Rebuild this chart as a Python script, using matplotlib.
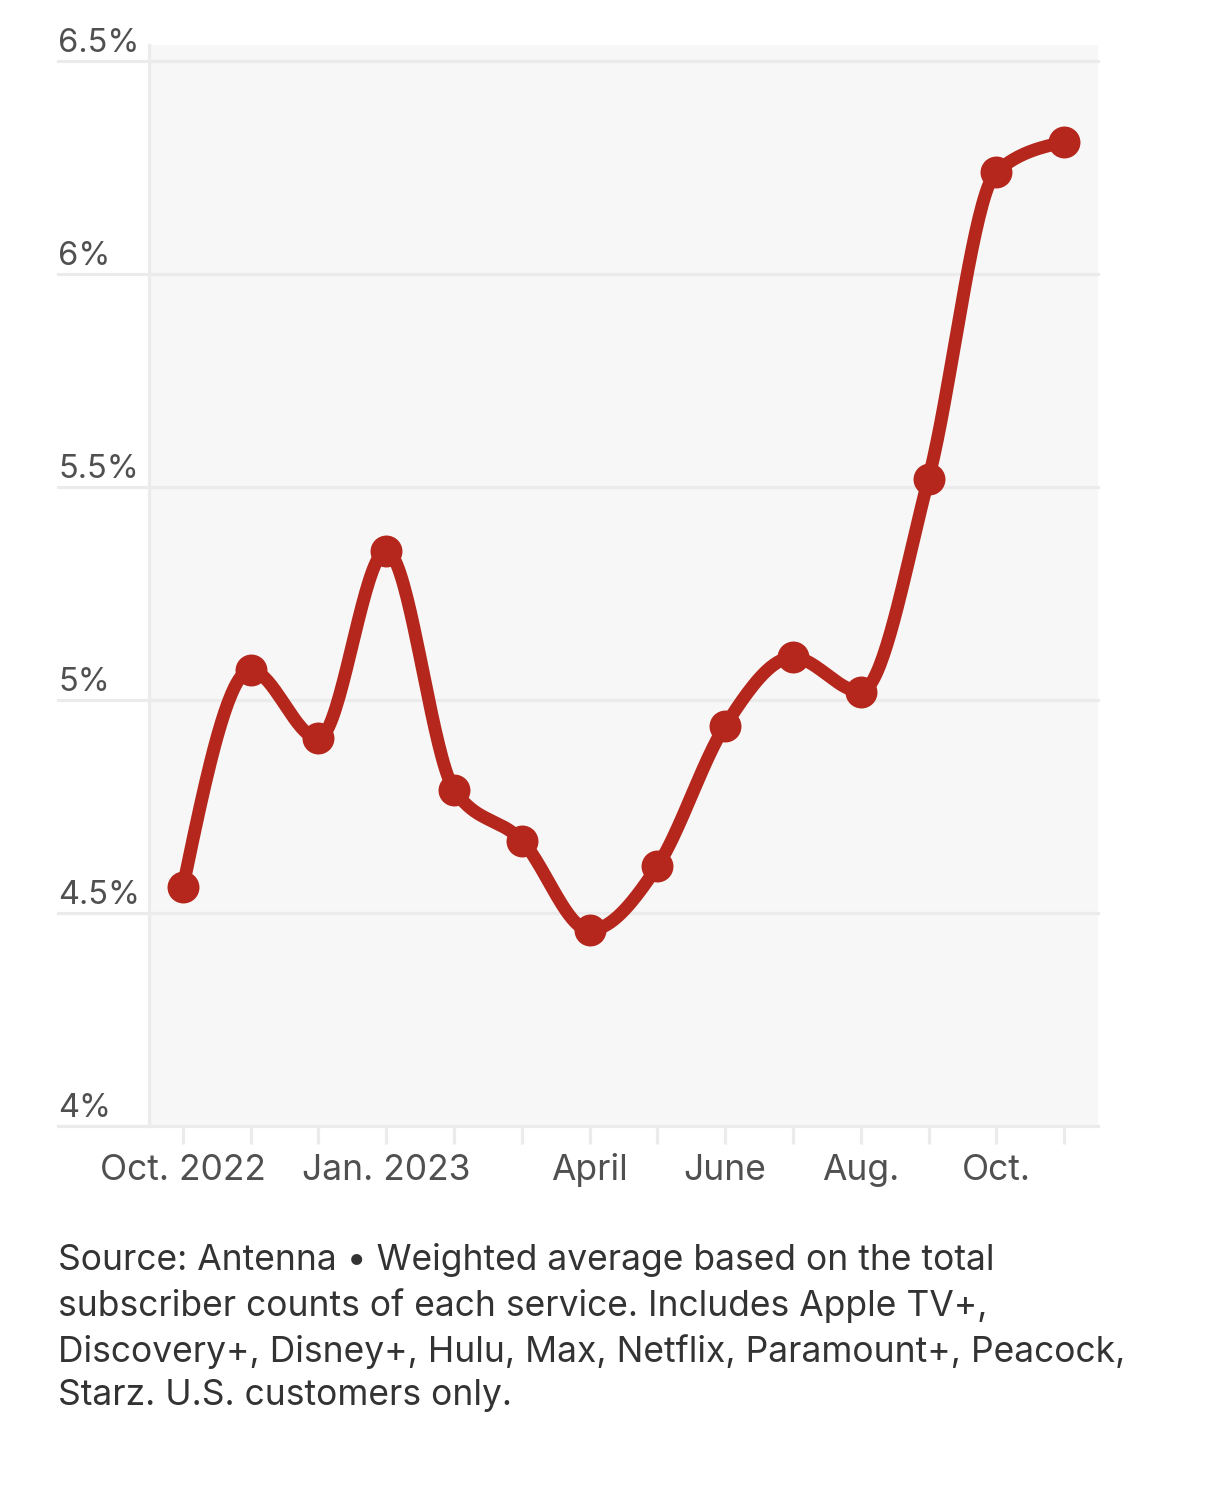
import matplotlib
matplotlib.use('Agg')
import matplotlib.pyplot as plt
import numpy as np

matplotlib.rcParams['font.family'] = ['Inter', 'DejaVu Sans']

# monthly values, Oct. 2022 .. Nov. 2023 (percent)
months = ['Oct. 2022', 'Nov.', 'Dec.', 'Jan. 2023', 'Feb.', 'March', 'April',
          'May', 'June', 'July', 'Aug.', 'Sept.', 'Oct.', 'Nov.']
values = [4.56, 5.07, 4.91, 5.35, 4.79, 4.67, 4.46,
          4.61, 4.94, 5.10, 5.02, 5.52, 6.24, 6.31]
shown_labels = {0: 'Oct. 2022', 3: 'Jan. 2023', 6: 'April', 8: 'June', 10: 'Aug.', 12: 'Oct.'}
yticks = [4.0, 4.5, 5.0, 5.5, 6.0, 6.5]
ytick_labels = ['4%', '4.5%', '5%', '5.5%', '6%', '6.5%']
note = ("Source: Antenna \u2022 Weighted average based on the total\n"
        "subscriber counts of each service. Includes Apple TV+,\n"
        "Discovery+, Disney+, Hulu, Max, Netflix, Paramount+, Peacock,\n"
        "Starz. U.S. customers only.")

RED = '#b5271c'
GRID = '#ebebeb'


def monotone(x, y, n=40):
    # d3 curveMonotoneX style hermite interpolation
    x = np.asarray(x, float)
    y = np.asarray(y, float)
    h = np.diff(x)
    s = np.diff(y) / h
    t = np.zeros(len(x))
    for i in range(1, len(x) - 1):
        s0, s1 = s[i - 1], s[i]
        p = (s0 * h[i] + s1 * h[i - 1]) / (h[i - 1] + h[i])
        t[i] = (np.sign(s0) + np.sign(s1)) * min(abs(s0), abs(s1), 0.5 * abs(p))
    t[0] = (3 * s[0] - t[1]) / 2
    t[-1] = (3 * s[-1] - t[-2]) / 2
    xs, ys = [], []
    for i in range(len(x) - 1):
        u = np.linspace(0, 1, n)
        h00 = 2 * u**3 - 3 * u**2 + 1
        h10 = u**3 - 2 * u**2 + u
        h01 = -2 * u**3 + 3 * u**2
        h11 = u**3 - u**2
        xs.append(x[i] + u * h[i])
        ys.append(h00 * y[i] + h10 * h[i] * t[i] + h01 * y[i + 1] + h11 * h[i] * t[i + 1])
    return np.concatenate(xs), np.concatenate(ys)


fig = plt.figure(figsize=(12.14, 14.88), dpi=100)
ax = fig.add_axes([149 / 1214, 1 - 1126 / 1488, 949 / 1214, 1081 / 1488])
ax.set_facecolor('#f7f7f7')

xi = np.arange(len(values))
cx, cy = monotone(xi, values)
ax.plot(cx, cy, color=RED, lw=9.3, solid_capstyle='round', zorder=5)
ax.plot(xi, values, 'o', color=RED, ms=23, mew=0, zorder=6)

ax.set_xlim(-0.5, 13.5)
ax.set_ylim(4.0, 6.538)

# gridlines reaching out under the labels
gx0 = (58 - 149) / 949
for yv, lab in zip(yticks, ytick_labels):
    ax.axhline(yv, xmin=gx0, xmax=1, color=GRID, lw=2.3, clip_on=False, zorder=1)
    ax.annotate(lab, xy=(gx0, yv), xycoords=('axes fraction', 'data'),
                xytext=(0, 6.5), textcoords='offset points',
                ha='left', va='baseline', fontsize=23.5, color='#505050')

for s in ['top', 'right', 'bottom']:
    ax.spines[s].set_visible(False)
ax.spines['left'].set_color(GRID)
ax.spines['left'].set_linewidth(2.3)

ax.set_yticks([])
ax.set_xticks(xi)
ax.set_xticklabels([shown_labels.get(i, '') for i in xi], fontsize=25.5, color='#505050')
ax.tick_params(axis='x', length=13, width=2.3, color=GRID, pad=26)
for t in ax.get_xticklabels():
    t.set_va('baseline')

fig.text(58 / 1214, 1 - 1243 / 1488, note, ha='left', va='top', fontsize=25.5,
         color='#333333', linespacing=1.40)

plt.savefig('out.png', dpi=100)
plt.close(fig)
